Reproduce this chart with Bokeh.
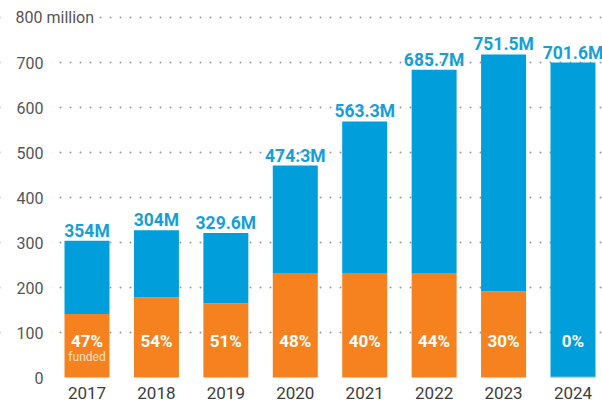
from bokeh.plotting import figure
from bokeh.models import ColumnDataSource, FixedTicker, Label, Range1d, BoxAnnotation
from bokeh.core.properties import value
from bokeh.embed import file_html
from bokeh.resources import INLINE

years = ["2017", "2018", "2019", "2020", "2021", "2022", "2023", "2024"]
bar_totals = [304, 327, 321, 471, 569, 684, 718, 700]
funded = [141, 178, 165, 232, 232, 232, 191, 1.5]
value_labels = ["354M", "304M", "329.6M", "474:3M", "563.3M", "685.7M", "751.5M", "701.6M"]
pct_labels = ["47%", "54%", "51%", "48%", "40%", "44%", "30%", "0%"]
y_ticks = [0, 100, 200, 300, 400, 500, 600, 700]
grid_ticks = [100, 200, 300, 400, 500, 600, 700, 800]
top_label = "800 million"

BLUE = "#009fdb"
ORANGE = "#f5821f"

xs = list(range(len(years)))
unfunded = [t - f for t, f in zip(bar_totals, funded)]
src = ColumnDataSource(dict(x=xs, funded=funded, unfunded=unfunded, total=bar_totals,
                            vlab=value_labels, plab=pct_labels,
                            py=[82] * len(xs), fy=[45] * len(xs), fl=["funded"] + [""] * 7))

AXIS_X = -0.511  # data x where the plotting area (grid) begins

p = figure(width=602, height=406, output_backend="svg", toolbar_location=None,
           x_range=Range1d(-1.246, 7.425), y_range=Range1d(-20, 837.8),
           min_border_left=0, min_border_right=0, min_border_top=0, min_border_bottom=20)
p.outline_line_color = None
p.background_fill_color = "white"

# grid
p.xgrid.grid_line_color = None
p.ygrid.ticker = FixedTicker(ticks=grid_ticks)
p.ygrid.grid_line_color = "#9a9a9a"
p.ygrid.grid_line_width = 2
p.ygrid.grid_line_dash = "0 10"
p.ygrid.grid_line_cap = "round"

# mask grid left of plotting area
p.add_layout(BoxAnnotation(right=AXIS_X, fill_color="white", fill_alpha=1.0,
                           line_color=None, level="underlay"))

p.vbar_stack(["funded", "unfunded"], x="x", width=0.648, color=[ORANGE, BLUE],
             line_color=None, source=src)

p.text(x="x", y="total", text="vlab", source=src, text_align="center",
       text_baseline="bottom", text_color="#159fd9",
       text_font=value("Roboto"), text_font_style="bold", text_font_size="17.5px")
p.text(x="x", y="py", text="plab", source=src, text_align="center",
       text_baseline="middle", text_color="white",
       text_font=value("Roboto"), text_font_style="bold", text_font_size="17px")
p.text(x="x", y="fy", text="fl", source=src, text_align="center",
       text_baseline="middle", text_color="#fde0c4",
       text_font=value("Roboto"), text_font_size="12px")

# axes
p.yaxis.fixed_location = AXIS_X
p.yaxis.ticker = FixedTicker(ticks=y_ticks)
p.yaxis.axis_line_color = None
p.yaxis.major_tick_line_color = None
p.yaxis.minor_tick_line_color = None
p.yaxis.major_tick_out = 0
p.yaxis.major_tick_in = 0
p.yaxis.major_label_standoff = 8
p.yaxis.major_label_text_font = "Roboto"
p.yaxis.major_label_text_font_size = "16px"
p.yaxis.major_label_text_color = "#555555"

p.xaxis.ticker = FixedTicker(ticks=xs)
p.xaxis.major_label_overrides = {i: y for i, y in zip(xs, years)}
p.xaxis.axis_line_color = None
p.xaxis.major_tick_line_color = None
p.xaxis.minor_tick_line_color = None
p.xaxis.major_tick_out = 0
p.xaxis.major_tick_in = 0
p.xaxis.major_label_standoff = 0
p.xaxis.major_label_text_font = "Roboto"
p.xaxis.major_label_text_font_size = "17px"
p.xaxis.major_label_text_color = "#3d3d3d"

p.add_layout(Label(x=-1.073, y=800, text=top_label, text_align="left",
                   text_baseline="middle", text_font="Roboto", text_font_size="16px",
                   text_color="#555555", background_fill_color="white",
                   padding=3, level="overlay"))

open("out.html", "w").write(file_html(p, INLINE))
